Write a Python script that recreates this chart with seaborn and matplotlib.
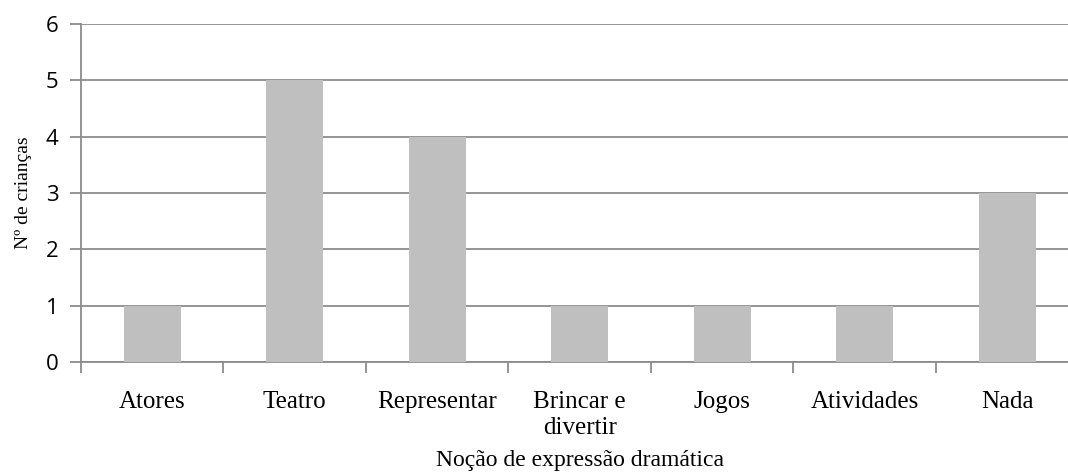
import matplotlib
matplotlib.use("Agg")
import matplotlib.pyplot as plt
import seaborn as sns
import numpy as np

categorias = ["Atores", "Teatro", "Representar", "Brincar e\ndivertir", "Jogos", "Atividades", "Nada"]
valores = [1, 5, 4, 1, 1, 1, 3]

sns.set_style("white")
fig = plt.figure(figsize=(10.68, 4.73), dpi=100)
ax = fig.add_axes([0.0758, 0.2347, 0.934, 0.7146])

sns.barplot(x=categorias, y=valores, color="#BFBFBF", width=0.4, saturation=1,
            linewidth=0, ax=ax, zorder=3)

grid_col = "#8C8C8C"
ax.set_ylim(0, 6)
ax.set_xlim(-0.5, len(categorias) - 0.5)
ax.set_yticks(range(0, 7))
ax.yaxis.grid(True, color=grid_col, linewidth=1.3, zorder=0)
ax.set_axisbelow(True)

for s in ["top", "right"]:
    ax.spines[s].set_visible(False)
for s in ["left", "bottom"]:
    ax.spines[s].set_color(grid_col)
    ax.spines[s].set_linewidth(1.3)

ax.tick_params(axis="y", left=True, length=8, width=1.3, color=grid_col, pad=8,
               labelsize=16, labelcolor="black")
for lbl in ax.get_yticklabels():
    lbl.set_family("Open Sans")
ax.tick_params(axis="x", which="major", bottom=False, length=0, pad=21, labelcolor="black")
ax.set_xticks(np.arange(-0.5, len(categorias), 1), minor=True)
ax.tick_params(axis="x", which="minor", bottom=True, length=8, width=1.3, color=grid_col)
for lbl in ax.get_xticklabels():
    lbl.set_family("Liberation Serif")
    lbl.set_fontsize(18)
    lbl.set_linespacing(1.2)

ax.set_xlabel("Noção de expressão dramática", family="Liberation Serif", fontsize=17,
              color="black", labelpad=8)
ax.set_ylabel("Nº de crianças", family="Liberation Serif", fontsize=14,
              color="black", labelpad=10)

fig.savefig("out.png", dpi=100)
